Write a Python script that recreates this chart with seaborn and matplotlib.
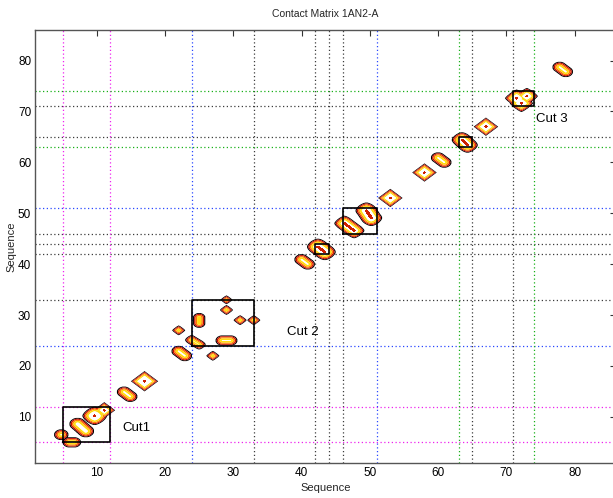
import numpy as np
import matplotlib
matplotlib.use("Agg")
import matplotlib.pyplot as plt
import seaborn as sns

# ---- contact blobs: each is a short segment (x0,y0)-(x1,y1) with a radius
# and a norm exponent (1 = diamond, 2 = round)
blob_x0 = [4.8, 6.0, 7.2, 9.7, 11.1, 14.0, 17.0, 22.0, 27.0, 22.0, 23.9, 25.0, 28.4,
           29.0, 29.0, 31.0, 33.0, 40.0, 42.4, 46.3, 49.5, 53.0, 58.0, 60.0, 63.5,
           67.0, 71.5, 73.0, 72.2, 77.8]
blob_y0 = [6.5, 5.0, 8.6, 10.2, 11.3, 14.9, 17.0, 22.9, 22.0, 27.0, 25.1, 28.4, 25.0,
           31.0, 33.0, 29.0, 29.0, 40.9, 43.4, 48.0, 50.5, 53.0, 58.0, 60.9, 64.4,
           67.0, 72.6, 73.0, 71.6, 78.7]
blob_x1 = [4.8, 6.7, 8.4, 9.7, 11.1, 14.9, 17.0, 22.9, 27.0, 22.0, 25.0, 25.0, 29.6,
           29.0, 29.0, 31.0, 33.0, 40.9, 43.4, 47.7, 50.2, 53.0, 58.0, 60.9, 64.3,
           67.0, 71.5, 73.0, 72.2, 78.7]
blob_y1 = [6.5, 5.0, 7.2, 10.2, 11.3, 14.0, 17.0, 22.0, 22.0, 27.0, 24.2, 29.5, 25.0,
           31.0, 33.0, 29.0, 29.0, 40.0, 42.4, 46.6, 49.1, 53.0, 58.0, 60.0, 63.4,
           67.0, 72.6, 73.0, 71.6, 77.8]
blob_r = [1.05, 1.0, 1.2, 1.8, 1.6, 1.05, 2.0, 1.05, 0.95, 0.95, 0.95, 0.9, 1.0,
          0.95, 0.85, 0.95, 0.95, 1.05, 1.6, 1.5, 1.6, 1.8, 1.8, 1.05, 1.5,
          1.8, 1.7, 1.6, 1.7, 1.05]
blob_p = [2, 2, 2, 1.5, 1, 2, 1, 2, 1.15, 1.15, 1.5, 2, 2,
          1.15, 1.15, 1.15, 1.15, 2, 1.6, 1.4, 1.6, 1, 1, 2, 1.6,
          1, 1.2, 1.2, 1.2, 2]

# domain boundaries (residue numbers) and their colours
magenta_cuts = [5, 12]
blue_cuts = [24, 51]
green_cuts = [63, 74]
black_cuts = [33, 42, 44, 46, 65, 71]

# boxed diagonal blocks (start, end)
box_start = [5, 24, 42, 46, 63, 71]
box_end = [12, 33, 44, 51, 65, 74]

cut_labels = ["Cut1", "Cut 2", "Cut 3"]
cut_label_x = [15.8, 40.2, 76.7]
cut_label_y = [7.9, 26.6, 68.6]

x_ticks = [10, 20, 30, 40, 50, 60, 70, 80]
y_ticks = [10, 20, 30, 40, 50, 60, 70, 80]

sns.set_theme(style="white")
plt.rcParams["font.family"] = ["Liberation Sans Narrow", "Liberation Sans", "DejaVu Sans"]

fig = plt.figure(figsize=(6.13, 4.98), dpi=100)
ax = fig.add_axes([0.0576, 0.0709, 0.9467, 0.8689])

# contact field on a fine grid: depth inside each blob (data units) and
# normalised height (1 at the blob's core)
step = 0.05
xg = np.arange(1.0, 86.0 + step, step)
yg = np.arange(1.0, 86.0 + step, step)
X, Y = np.meshgrid(xg, yg)
depth = np.zeros_like(X)
core = np.zeros_like(X)
for x0, y0, x1, y1, r, p in zip(blob_x0, blob_y0, blob_x1, blob_y1, blob_r, blob_p):
    xmin, xmax = min(x0, x1) - r - 0.2, max(x0, x1) + r + 0.2
    ymin, ymax = min(y0, y1) - r - 0.2, max(y0, y1) + r + 0.2
    ix = (xg >= xmin) & (xg <= xmax)
    iy = (yg >= ymin) & (yg <= ymax)
    sx = X[np.ix_(iy, ix)]
    sy = Y[np.ix_(iy, ix)]
    dx, dy = x1 - x0, y1 - y0
    L2 = dx * dx + dy * dy
    if L2 > 0:
        t = np.clip(((sx - x0) * dx + (sy - y0) * dy) / L2, 0, 1)
    else:
        t = np.zeros_like(sx)
    ex = np.abs(sx - (x0 + t * dx))
    ey = np.abs(sy - (y0 + t * dy))
    d = (ex ** p + ey ** p) ** (1.0 / p)
    dep = np.clip(r - d, 0, None)
    depth[np.ix_(iy, ix)] = np.maximum(depth[np.ix_(iy, ix)], dep)
    if r >= 1.5:
        c = np.clip(1 - d / r, 0, 1)
        core[np.ix_(iy, ix)] = np.maximum(core[np.ix_(iy, ix)], c)

# dotted domain boundaries
dot = (0, (1, 2))
for vals, col in [(black_cuts, "#3c3c3c"), (magenta_cuts, "#ee22ee"),
                  (blue_cuts, "#2a48ff"), (green_cuts, "#18b018")]:
    for v in vals:
        ax.axvline(v, color=col, lw=0.9, linestyle=dot, zorder=1)
        ax.axhline(v, color=col, lw=0.9, linestyle=dot, zorder=1)

levels = [0.003, 0.17, 0.37, 0.6, 0.92, 10.0]
colors = ["#000000", "#c80800", "#ff7a00", "#ffdc10", "#ffffff"]
ax.contourf(xg, yg, depth, levels=levels, colors=colors, zorder=2, antialiased=True)
ax.contourf(xg, yg, core, levels=[0.9, 1.01], colors=["#d02000"], zorder=2.1)

# boxes around diagonal blocks
for s, e in zip(box_start, box_end):
    ax.plot([s, e, e, s, s], [s, s, e, e, s], color="black", lw=1.2, zorder=3)

for lab, tx, ty in zip(cut_labels, cut_label_x, cut_label_y):
    ax.text(tx, ty, lab, ha="center", va="center", fontsize=9.5, color="black", zorder=4)

ax.set_xlim(1, 86)
ax.set_ylim(1, 86)
ax.set_xticks(x_ticks)
ax.set_yticks(y_ticks)
ax.tick_params(direction="in", length=4, width=0.8, colors="#333333",
               labelsize=8.5, top=True, right=True, labelcolor="black", pad=3)
for sp in ax.spines.values():
    sp.set_color("#555555")
    sp.set_linewidth(1.0)
ax.grid(False)
ax.set_xlabel("Sequence", fontsize=8, labelpad=3)
ax.set_ylabel("Sequence", fontsize=8, labelpad=1)
ax.set_title("Contact Matrix 1AN2-A", fontsize=7.5, pad=9)

fig.savefig("out.png", dpi=100)
